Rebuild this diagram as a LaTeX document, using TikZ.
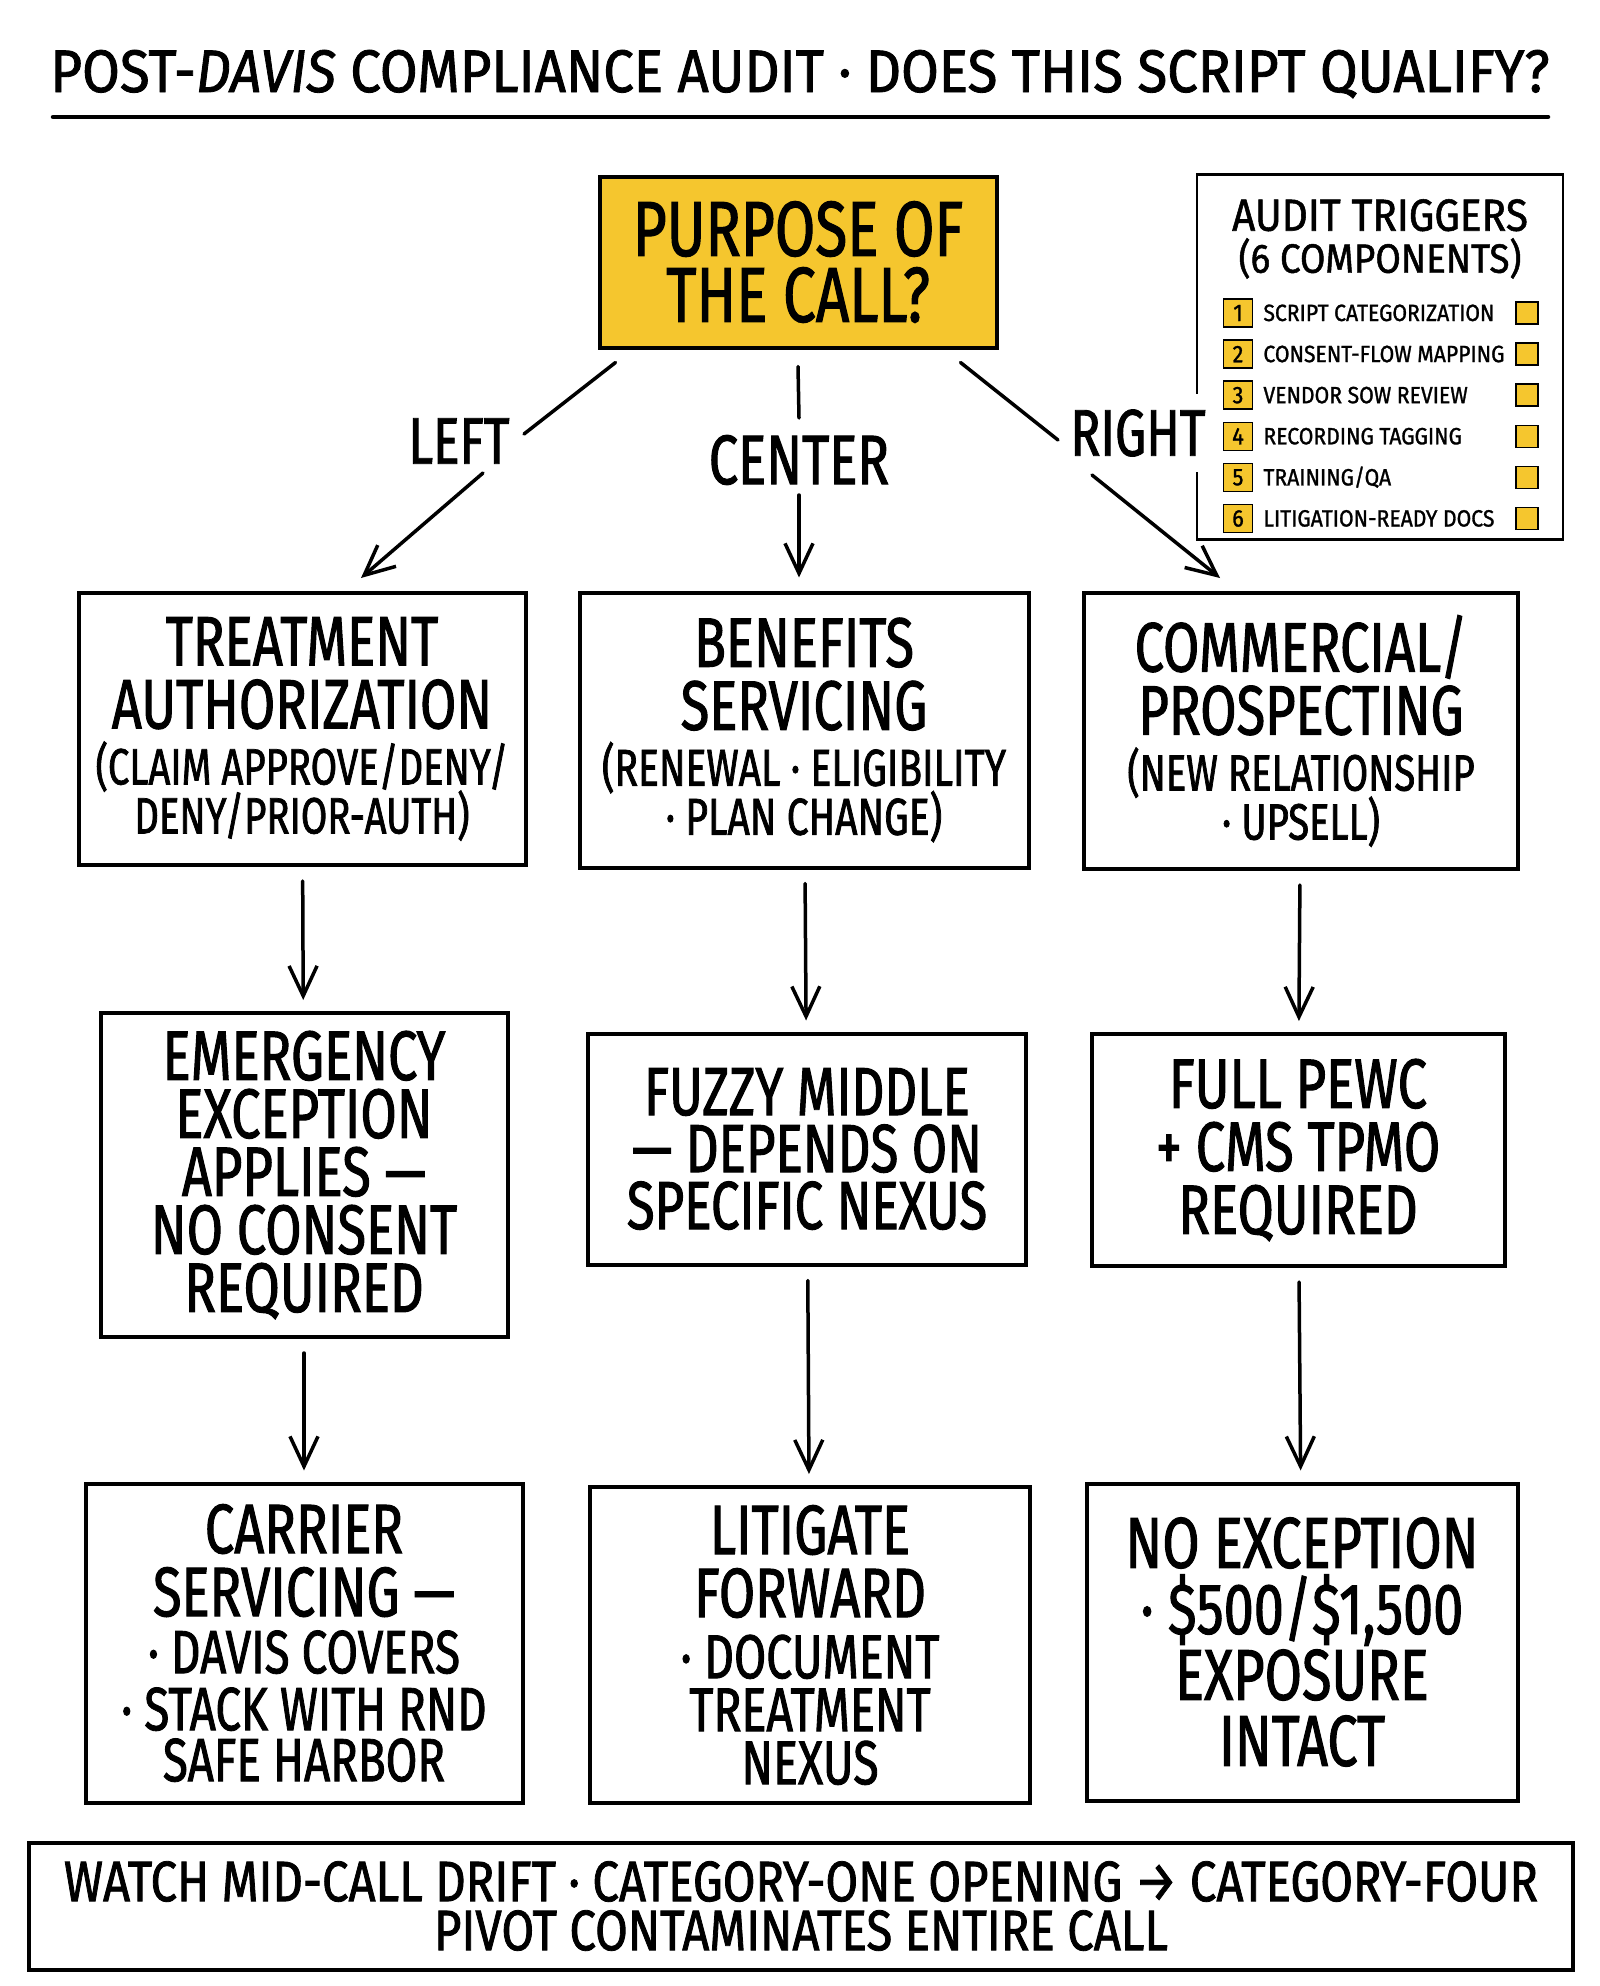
\documentclass[tikz,border=0pt]{standalone}
\usepackage{fontspec}
\setmainfont{Fira Sans}[FakeStretch=0.75,FakeBold=1.4]
\newfontfamily\wideface{Fira Sans}[FakeStretch=0.9,FakeBold=1.2]
\newfontfamily\titleface{Fira Sans}[FakeStretch=0.91,FakeBold=1.4]
\newfontfamily\footface{Fira Sans}[FakeStretch=0.83,FakeBold=1.4]
\usetikzlibrary{arrows.meta,positioning}

\definecolor{callyellow}{HTML}{F5C62E}
\newcommand{\sz}[2]{\fontsize{#1}{#2}\selectfont}
\newcommand{\note}[2][51]{{\sz{#1}{#1}#2}}

\begin{document}
\begin{tikzpicture}[x=1pt,y=-1pt,
    box/.style={draw, line width=4pt, align=center, inner sep=0pt},
    fork/.style={fill=white, inner sep=4pt, font=\sz{66}{66}},
    link/.style={line width=3.5pt, line cap=round},
    arr/.style={link, -{Straight Barb[length=30pt,width=28pt]}},
    down/.style={arr, shorten <=14pt, shorten >=11pt},
    numsq/.style={draw, line width=1.5pt, fill=callyellow, minimum width=29pt, minimum height=28pt, inner sep=0pt, font=\wideface\sz{24}{24}},
    chksq/.style={draw, line width=1.5pt, fill=callyellow, minimum size=22pt, inner sep=0pt},
    item/.style={inner sep=0pt, text height=16pt, text depth=0pt, font=\wideface\sz{23.5}{24}}]

\useasboundingbox (0,0) rectangle (1600,1986);

% title
\node[anchor=base, font=\titleface\sz{60}{60}] (title) at (800,92) {POST-\textit{DAVIS} COMPLIANCE AUDIT · DOES THIS SCRIPT QUALIFY?};
\draw[line width=4.5pt, line cap=round] (53,117) -- (1548,117);

% the question
\node[box, fill=callyellow, minimum width=397pt, minimum height=171pt, font=\sz{78}{66}] (purpose) at (798,262) {PURPOSE OF\\THE CALL?};

% audit triggers panel
\node[draw, line width=2.5pt, minimum width=366pt, minimum height=365pt] (audit) at (1380,357) {};
\node[anchor=north, align=center, inner sep=0pt, font=\wideface\sz{45}{42}] (audithead) at (1380,199) {AUDIT TRIGGERS\\{\sz{41}{42}(6 COMPONENTS)}};
\node[numsq] (n1) at (1238,313) {1};
\node[numsq, below=11.6pt of n1] (n2) {2};
\node[numsq, below=11.6pt of n2] (n3) {3};
\node[numsq, below=11.6pt of n3] (n4) {4};
\node[numsq, below=11.6pt of n4] (n5) {5};
\node[numsq, below=11.6pt of n5] (n6) {6};
\node[item, right=10pt of n1] (t1) {SCRIPT CATEGORIZATION};
\node[item, right=10pt of n2] (t2) {CONSENT-FLOW MAPPING};
\node[item, right=10pt of n3] (t3) {VENDOR SOW REVIEW};
\node[item, right=10pt of n4] (t4) {RECORDING TAGGING};
\node[item, right=10pt of n5] (t5) {TRAINING/QA};
\node[item, right=10pt of n6] (t6) {LITIGATION-READY DOCS};
\node[chksq] (c1) at (1527,313) {};
\node[chksq, below=17.6pt of c1] (c2) {};
\node[chksq, below=17.6pt of c2] (c3) {};
\node[chksq, below=17.6pt of c3] (c4) {};
\node[chksq, below=17.6pt of c4] (c5) {};
\node[chksq, below=17.6pt of c5] (c6) {};

% branch labels
\node[fork] (lleft) at (459,441) {LEFT};
\node[fork, font=\sz{70}{70}] (lcenter) at (799,460) {CENTER};
\node[fork, inner ysep=15pt] (lright) at (1138,433) {RIGHT};

% first row
\node[box, minimum width=447pt, minimum height=272pt, font=\sz{70}{63}] (treat) at (302,729)
  {TREATMENT\\AUTHORIZATION\\[-7pt]\note{(CLAIM APPROVE/DENY/}\\[-14pt]\note{DENY/PRIOR-AUTH)}};
\node[box, minimum width=449pt, minimum height=275pt, font=\sz{70}{63}] (benefit) at (804,730)
  {BENEFITS\\SERVICING\\[-7pt]\note[52]{(RENEWAL · ELIGIBILITY}\\[-14pt]\note[52]{· PLAN CHANGE)}};
\node[box, minimum width=434pt, minimum height=276pt, font=\sz{70}{63}] (commerce) at (1301,731)
  {COMMERCIAL/\\PROSPECTING\\[-7pt]\note{(NEW RELATIONSHIP}\\[-14pt]\note{· UPSELL)}};

% second row
\node[box, minimum width=407pt, minimum height=324pt, font=\sz{70}{58}] (emerg) at (304,1175)
  {EMERGENCY\\EXCEPTION\\APPLIES —\\NO CONSENT\\REQUIRED};
\node[box, minimum width=438pt, minimum height=231pt, font=\sz{68}{57}] (fuzzy) at (807,1149)
  {FUZZY MIDDLE\\— DEPENDS ON\\SPECIFIC NEXUS};
\node[box, minimum width=413pt, minimum height=232pt, font=\sz{70}{63}] (pewc) at (1298,1150)
  {FULL PEWC\\+ CMS TPMO\\REQUIRED};

% third row
\node[box, minimum width=437pt, minimum height=319pt, font=\sz{70}{63}] (carrier) at (304,1643)
  {CARRIER\\SERVICING —\\[-6pt]\note[61]{· DAVIS COVERS}\\[-6pt]\note[61]{· STACK WITH RND}\\[-12pt]\note[61]{SAFE HARBOR}};
\node[box, minimum width=440pt, minimum height=316pt, font=\sz{70}{63}] (litigate) at (810,1645)
  {LITIGATE\\FORWARD\\[-2pt]\note[62]{· DOCUMENT}\\[-10pt]\note[62]{TREATMENT}\\[-10pt]\note[62]{NEXUS}};
\node[box, minimum width=431pt, minimum height=317pt, font=\sz{72}{66}] (noexcept) at (1302,1642)
  {NO EXCEPTION\\· \$500/\$1,500\\EXPOSURE\\INTACT};

% footer
\node[box, minimum width=1544pt, minimum height=127pt, font=\footface\sz{57}{49}] (drift) at (801,1906)
  {WATCH MID-CALL DRIFT · CATEGORY-ONE OPENING → CATEGORY-FOUR\\PIVOT CONTAMINATES ENTIRE CALL};

% branches
\draw[link] ([shift={(18,13)}]purpose.south west) -- ([shift={(65,-7)}]lleft.center);
\draw[arr] ([shift={(24,32)}]lleft.center) -- ([shift={(59,-13)}]treat.north);
\draw[link] ([shift={(0,17)}]purpose.south) -- ([shift={(0,-42)}]lcenter.center);
\draw[arr] ([shift={(0,35)}]lcenter.center) -- ([shift={(-5,-13)}]benefit.north);
\draw[link] ([shift={(-38,13)}]purpose.south east) -- ([shift={(-80,7)}]lright.center);
\draw[arr] ([shift={(-46,42)}]lright.center) -- ([shift={(-81,-13)}]commerce.north);

% down the columns
\draw[down] (treat) -- (emerg);
\draw[down] (benefit) -- (fuzzy);
\draw[down] (commerce) -- (pewc);
\draw[down] (emerg) -- (carrier);
\draw[down] (fuzzy) -- (litigate);
\draw[down] (pewc) -- (noexcept);
\end{tikzpicture}
\end{document}
